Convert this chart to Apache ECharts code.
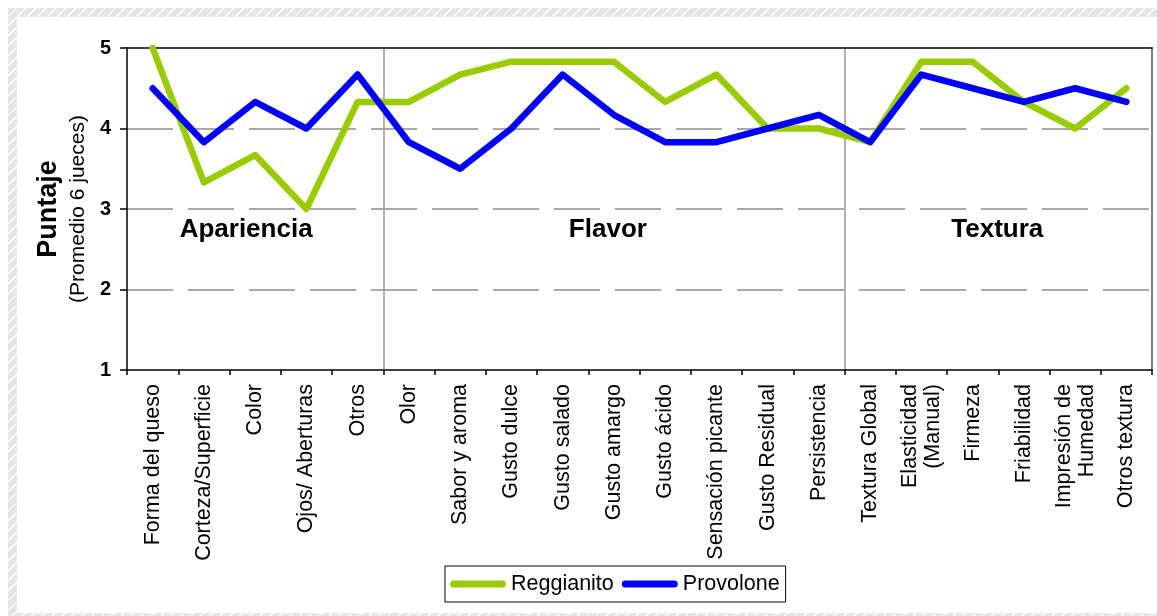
<!DOCTYPE html>
<html>
<head>
<meta charset="utf-8">
<script src="https://cdn.jsdelivr.net/npm/echarts@6/dist/echarts.min.js"></script>
<style>
  html, body { margin: 0; padding: 0; background: #fff; }
  #frame {
    position: absolute; left: 8px; top: 8px; width: 1149px; height: 608px;
    background: repeating-linear-gradient(135deg, #e4e4e4 0px, #e4e4e4 5px, #f6f6f6 5px, #f6f6f6 7px);
  }
  #inner { position: absolute; left: 9px; top: 9px; width: 1140px; height: 596px; background: #fff; }
  #chart { position: absolute; left: 0; top: 0; width: 1157px; height: 616px; }
</style>
</head>
<body>
<div id="frame"><div id="inner"></div></div>
<div id="chart"></div>
<script>
const FONT = '"Liberation Sans", Arial, sans-serif';

const categories = ['Forma del queso', 'Corteza/Superficie', 'Color', 'Ojos/ Aberturas', 'Otros',
  'Olor', 'Sabor y aroma', 'Gusto dulce', 'Gusto salado', 'Gusto amargo', 'Gusto ácido',
  'Sensación picante', 'Gusto Residual', 'Persistencia',
  'Textura Global', 'Elasticidad\n(Manual)', 'Firmeza', 'Friabilidad', 'Impresión de\nHumedad', 'Otros textura'];

const reggianito = [5.0, 3.33, 3.67, 3.0, 4.33, 4.33, 4.67, 4.83, 4.83, 4.83, 4.33, 4.67, 4.0, 4.0,
  3.83, 4.83, 4.83, 4.33, 4.0, 4.5];
const provolone = [4.5, 3.83, 4.33, 4.0, 4.67, 3.83, 3.5, 4.0, 4.67, 4.17, 3.83, 3.83, 4.0, 4.17,
  3.83, 4.67, 4.5, 4.33, 4.5, 4.33];

const seriesNames = ['Reggianito', 'Provolone'];
const sectionLabels = ['Apariencia', 'Flavor', 'Textura'];
const sectionBreaks = [5, 14];
const yTicks = [1, 2, 3, 4, 5];

const chart = echarts.init(document.getElementById('chart'), null, { renderer: 'canvas' });

const capsule = 'path://M3.5,0 L52.5,0 A3.5,3.5 0 0 1 52.5,7 L3.5,7 A3.5,3.5 0 0 1 3.5,0 Z';

const option = {
  animation: false,
  textStyle: { fontFamily: FONT },
  grid: { left: 127, top: 48, width: 1025, height: 322, show: false },
  legend: {
    data: seriesNames,
    top: 566, left: 445,
    orient: 'horizontal',
    backgroundColor: '#fff',
    borderColor: '#000', borderWidth: 1,
    padding: [7, 6, 7, 5],
    itemGap: 8,
    itemWidth: 56, itemHeight: 7,
    icon: capsule,
    textStyle: { fontFamily: FONT, fontSize: 21.5, color: '#000' }
  },
  xAxis: [{
    type: 'category',
    data: categories,
    boundaryGap: true,
    axisLine: { lineStyle: { color: '#000', width: 1.5 } },
    axisTick: { show: true, length: 5, inside: false, lineStyle: { color: '#000', width: 1.5 } },
    axisLabel: {
      rotate: 90, interval: 0, margin: 14,
      fontFamily: FONT, fontSize: 21.5, color: '#000', lineHeight: 23
    },
    splitLine: {
      show: true,
      interval: function (index) { return sectionBreaks.indexOf(index) >= 0; },
      lineStyle: { color: '#999', width: 1.5 }
    }
  }, {
    type: 'category',
    data: categories,
    position: 'top',
    axisLine: { show: true, lineStyle: { color: '#000', width: 1.5 } },
    axisTick: { show: false },
    axisLabel: { show: false },
    splitLine: { show: false }
  }],
  yAxis: [{
    type: 'value',
    min: 1, max: 5, interval: 1,
    axisLine: { show: true, lineStyle: { color: '#000', width: 1.5 } },
    axisTick: { show: true, length: 7, lineStyle: { color: '#000', width: 1.5 } },
    axisLabel: {
      margin: 16, fontFamily: FONT, fontSize: 20, fontWeight: 'bold', color: '#000',
      formatter: function (v) { return yTicks.indexOf(v) >= 0 ? String(v) : ''; }
    },
    splitLine: {
      show: true,
      lineStyle: {
        color: ['rgba(0,0,0,0)', '#8c8c8c', '#8c8c8c', '#8c8c8c', 'rgba(0,0,0,0)'],
        width: 1.5, type: [46, 15]
      }
    },
    name: '{a|Puntaje}\n{b|(Promedio 6 jueces)}',
    nameLocation: 'middle',
    nameRotate: 90,
    nameGap: 29,
    nameTextStyle: {
      rich: {
        a: { fontFamily: FONT, fontSize: 27, fontWeight: 'bold', color: '#000', lineHeight: 30 },
        b: { fontFamily: FONT, fontSize: 21, color: '#000', lineHeight: 30 }
      }
    }
  }, {
    type: 'value',
    min: 1, max: 5, interval: 1,
    position: 'right',
    axisLine: { show: true, lineStyle: { color: '#808080', width: 2 } },
    axisTick: { show: false },
    axisLabel: { show: false },
    splitLine: { show: false }
  }],
  series: [{
    name: seriesNames[0],
    type: 'line',
    data: reggianito,
    symbol: 'none',
    color: '#99CC00',
    lineStyle: { color: '#99CC00', width: 6.5, cap: 'round', join: 'round' },
    z: 3
  }, {
    name: seriesNames[1],
    type: 'line',
    data: provolone,
    symbol: 'none',
    color: '#0000FF',
    lineStyle: { color: '#0000FF', width: 6.5, cap: 'round', join: 'round' },
    z: 4
  }]
};

chart.setOption(option);

// Section labels, centered over each block of categories
const blocks = [[0, 5], [5, 14], [14, 20]];
const offsets = [-9, -6, -1];
const graphics = blocks.map(function (b, i) {
  const x0 = chart.convertToPixel({ xAxisIndex: 0 }, b[0]);
  const x1 = chart.convertToPixel({ xAxisIndex: 0 }, b[1] - 1);
  const cx = (x0 + x1) / 2 + offsets[i];
  const cy = chart.convertToPixel({ yAxisIndex: 0 }, 2.74);
  return {
    type: 'text', x: cx, y: cy, z: 10,
    style: {
      text: sectionLabels[i], fill: '#000',
      font: 'bold 26px ' + FONT,
      align: 'center', verticalAlign: 'middle'
    }
  };
});
chart.setOption({ graphic: graphics });
</script>
</body>
</html>
